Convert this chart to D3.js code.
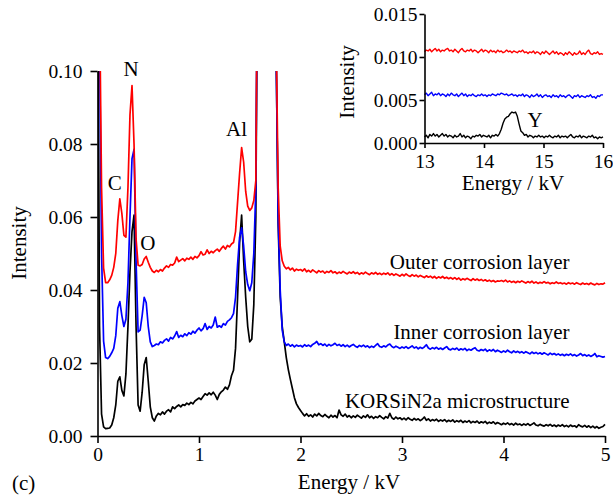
<!DOCTYPE html>
<html>
<head>
<meta charset="utf-8">
<script src="https://cdn.jsdelivr.net/npm/d3@7"></script>
<style>
  html, body { margin: 0; padding: 0; background: #fff; }
  svg { display: block; }
  text { font-family: "Liberation Serif", "Times New Roman", serif; fill: #000; }
</style>
</head>
<body>
<svg id="chart" width="613" height="497"></svg>
<script>
// EDS spectra, 0–5 kV, sampled every 0.02 kV (intensities above 0.10 are off-scale peaks)
const mainStart = 0, mainStep = 0.02;
const outerLayer = [
  0.150, 0.120, 0.068, 0.0460, 0.0420, 0.0420, 0.0428, 0.0440, 0.0462, 0.0500,
  0.0590, 0.0650, 0.0610, 0.0550, 0.0545, 0.0680, 0.0880, 0.0960, 0.0800, 0.0540,
  0.0468, 0.0466, 0.0470, 0.0485, 0.0492, 0.0476, 0.0462, 0.0452, 0.0448, 0.0454,
  0.0450, 0.0456, 0.0452, 0.0460, 0.0466, 0.0462, 0.0470, 0.0468, 0.0474, 0.0490,
  0.0478, 0.0482, 0.0486, 0.0480, 0.0487, 0.0484, 0.0490, 0.0484, 0.0492, 0.0488,
  0.0494, 0.0505, 0.0496, 0.0498, 0.0510, 0.0500, 0.0506, 0.0502, 0.0508, 0.0512,
  0.0506, 0.0514, 0.0520, 0.0512, 0.0522, 0.0518, 0.0526, 0.0530, 0.0560, 0.0640,
  0.0720, 0.0790, 0.0750, 0.0670, 0.0630, 0.0618, 0.0625, 0.0645, 0.0700, 0.150,
  0.300, 0.300, 0.300, 0.300, 0.300, 0.300, 0.300, 0.300, 0.110, 0.068,
  0.0520, 0.0480, 0.0465, 0.0458, 0.0462, 0.0455, 0.0460, 0.0452, 0.0457, 0.0454,
  0.0456, 0.0452, 0.0458, 0.0450, 0.0454, 0.0449, 0.0455, 0.0451, 0.0447, 0.0453,
  0.0449, 0.0452, 0.0446, 0.0451, 0.0448, 0.0453, 0.0447, 0.0450, 0.0445, 0.0449,
  0.0446, 0.0451, 0.0447, 0.0444, 0.0449, 0.0446, 0.0450, 0.0445, 0.0448, 0.0443,
  0.0447, 0.0444, 0.0449, 0.0445, 0.0442, 0.0447, 0.0444, 0.0448, 0.0443, 0.0446,
  0.0442, 0.0446, 0.0443, 0.0447, 0.0441, 0.0445, 0.0440, 0.0444, 0.0441, 0.0438,
  0.0443, 0.0439, 0.0444, 0.0440, 0.0437, 0.0442, 0.0438, 0.0441, 0.0436, 0.0440,
  0.0437, 0.0434, 0.0439, 0.0435, 0.0438, 0.0433, 0.0437, 0.0432, 0.0436, 0.0433,
  0.0437, 0.0432, 0.0435, 0.0431, 0.0434, 0.0430, 0.0434, 0.0429, 0.0433, 0.0427,
  0.0431, 0.0428, 0.0432, 0.0429, 0.0426, 0.0431, 0.0427, 0.0430, 0.0426, 0.0429,
  0.0425, 0.0428, 0.0424, 0.0427, 0.0423, 0.0426, 0.0422, 0.0425, 0.0424, 0.0426,
  0.0423, 0.0427, 0.0422, 0.0425, 0.0421, 0.0424, 0.0420, 0.0424, 0.0421, 0.0425,
  0.0422, 0.0419, 0.0423, 0.0420, 0.0424, 0.0419, 0.0422, 0.0418, 0.0421, 0.0419,
  0.0423, 0.0419, 0.0421, 0.0417, 0.0420, 0.0418, 0.0422, 0.0418, 0.0420, 0.0417,
  0.0419, 0.0416, 0.0420, 0.0417, 0.0419, 0.0416, 0.0420, 0.0417, 0.0415, 0.0419,
  0.0416, 0.0418, 0.0415, 0.0419, 0.0416, 0.0414, 0.0418, 0.0415, 0.0417, 0.0416,
  0.0420
];
const innerLayer = [
  0.150, 0.110, 0.050, 0.0260, 0.0215, 0.0212, 0.0218, 0.0228, 0.0240, 0.0275,
  0.0350, 0.0368, 0.0330, 0.0300, 0.0320, 0.0420, 0.0600, 0.0760, 0.0785, 0.0480,
  0.0285, 0.0290, 0.0330, 0.0380, 0.0365, 0.0300, 0.0258, 0.0245, 0.0248, 0.0252,
  0.0250, 0.0258, 0.0255, 0.0262, 0.0266, 0.0260, 0.0270, 0.0266, 0.0274, 0.0286,
  0.0270, 0.0276, 0.0272, 0.0280, 0.0275, 0.0283, 0.0279, 0.0287, 0.0282, 0.0290,
  0.0296, 0.0288, 0.0294, 0.0308, 0.0292, 0.0300, 0.0296, 0.0304, 0.0326, 0.0298,
  0.0302, 0.0298, 0.0308, 0.0304, 0.0314, 0.0318, 0.0324, 0.0335, 0.0380, 0.0470,
  0.0545, 0.0570, 0.0520, 0.0450, 0.0415, 0.0398, 0.0420, 0.0500, 0.0680, 0.150,
  0.300, 0.300, 0.300, 0.300, 0.300, 0.300, 0.300, 0.300, 0.105, 0.060,
  0.0400, 0.0290, 0.0258, 0.0248, 0.0252, 0.0246, 0.0250, 0.0244, 0.0249, 0.0246,
  0.0248, 0.0244, 0.0250, 0.0246, 0.0249, 0.0245, 0.0251, 0.0254, 0.0259, 0.0250,
  0.0253, 0.0248, 0.0252, 0.0246, 0.0251, 0.0247, 0.0250, 0.0254, 0.0248, 0.0251,
  0.0246, 0.0250, 0.0245, 0.0249, 0.0244, 0.0248, 0.0251, 0.0246, 0.0243, 0.0248,
  0.0245, 0.0249, 0.0244, 0.0247, 0.0242, 0.0246, 0.0243, 0.0248, 0.0253, 0.0245,
  0.0243, 0.0247, 0.0244, 0.0249, 0.0252, 0.0245, 0.0242, 0.0246, 0.0243, 0.0240,
  0.0244, 0.0241, 0.0245, 0.0240, 0.0243, 0.0247, 0.0241, 0.0244, 0.0239, 0.0243,
  0.0240, 0.0244, 0.0250, 0.0241, 0.0238, 0.0242, 0.0239, 0.0243, 0.0238, 0.0241,
  0.0237, 0.0241, 0.0245, 0.0238, 0.0236, 0.0240, 0.0237, 0.0241, 0.0235, 0.0239,
  0.0236, 0.0240, 0.0234, 0.0238, 0.0235, 0.0239, 0.0242, 0.0235, 0.0233, 0.0237,
  0.0234, 0.0238, 0.0232, 0.0236, 0.0233, 0.0237, 0.0231, 0.0235, 0.0232, 0.0229,
  0.0233, 0.0230, 0.0235, 0.0231, 0.0228, 0.0233, 0.0229, 0.0232, 0.0228, 0.0231,
  0.0227, 0.0231, 0.0228, 0.0225, 0.0230, 0.0226, 0.0229, 0.0225, 0.0228, 0.0224,
  0.0228, 0.0225, 0.0222, 0.0227, 0.0223, 0.0226, 0.0222, 0.0225, 0.0221, 0.0224,
  0.0220, 0.0224, 0.0221, 0.0225, 0.0220, 0.0223, 0.0219, 0.0222, 0.0226, 0.0220,
  0.0223, 0.0219, 0.0222, 0.0218, 0.0221, 0.0226, 0.0217, 0.0220, 0.0218, 0.0216,
  0.0218
];
const microstructure = [
  0.150, 0.030, 0.0060, 0.0025, 0.0020, 0.0021, 0.0022, 0.0030, 0.0050, 0.0085,
  0.0150, 0.0162, 0.0125, 0.0110, 0.0170, 0.0300, 0.0450, 0.0560, 0.0605, 0.0300,
  0.0085, 0.0068, 0.0120, 0.0195, 0.0215, 0.0150, 0.0080, 0.0050, 0.0041, 0.0055,
  0.0062, 0.0058, 0.0066, 0.0060, 0.0068, 0.0072, 0.0066, 0.0080, 0.0075, 0.0081,
  0.0085, 0.0080, 0.0086, 0.0084, 0.0090, 0.0086, 0.0092, 0.0088, 0.0096, 0.0100,
  0.0104, 0.0100, 0.0108, 0.0116, 0.0112, 0.0118, 0.0113, 0.0120, 0.0112, 0.0100,
  0.0114, 0.0121, 0.0126, 0.0134, 0.0128, 0.0140, 0.0165, 0.0180, 0.0240, 0.0380,
  0.0530, 0.0605, 0.0480, 0.0380, 0.0300, 0.0258, 0.0265, 0.0360, 0.0600, 0.150,
  0.300, 0.300, 0.300, 0.300, 0.300, 0.300, 0.300, 0.300, 0.105, 0.058,
  0.0380, 0.0300, 0.0258, 0.0215, 0.0182, 0.0155, 0.0130, 0.0105, 0.0088, 0.0078,
  0.0070, 0.0062, 0.0055, 0.0061, 0.0054, 0.0058, 0.0052, 0.0060, 0.0055, 0.0062,
  0.0056, 0.0053, 0.0059, 0.0054, 0.0050, 0.0057, 0.0052, 0.0056, 0.0050, 0.0071,
  0.0058, 0.0054, 0.0060, 0.0052, 0.0056, 0.0050, 0.0055, 0.0051, 0.0057, 0.0053,
  0.0049, 0.0055, 0.0051, 0.0058, 0.0050, 0.0054, 0.0048, 0.0053, 0.0050, 0.0056,
  0.0051, 0.0047, 0.0053, 0.0049, 0.0062, 0.0050, 0.0046, 0.0052, 0.0047, 0.0050,
  0.0045, 0.0049, 0.0044, 0.0050, 0.0046, 0.0043, 0.0048, 0.0044, 0.0047, 0.0042,
  0.0046, 0.0052, 0.0043, 0.0047, 0.0041, 0.0045, 0.0042, 0.0046, 0.0040, 0.0044,
  0.0041, 0.0045, 0.0039, 0.0043, 0.0040, 0.0044, 0.0038, 0.0042, 0.0039, 0.0043,
  0.0037, 0.0041, 0.0038, 0.0042, 0.0036, 0.0040, 0.0037, 0.0041, 0.0035, 0.0039,
  0.0036, 0.0040, 0.0034, 0.0038, 0.0035, 0.0039, 0.0033, 0.0037, 0.0034, 0.0031,
  0.0035, 0.0032, 0.0036, 0.0031, 0.0034, 0.0030, 0.0035, 0.0031, 0.0033, 0.0029,
  0.0033, 0.0030, 0.0034, 0.0029, 0.0032, 0.0036, 0.0030, 0.0028, 0.0032, 0.0029,
  0.0027, 0.0031, 0.0028, 0.0032, 0.0027, 0.0030, 0.0026, 0.0030, 0.0027, 0.0031,
  0.0026, 0.0029, 0.0025, 0.0030, 0.0026, 0.0028, 0.0024, 0.0031, 0.0027, 0.0025,
  0.0029, 0.0024, 0.0028, 0.0023, 0.0027, 0.0022, 0.0026, 0.0021, 0.0024, 0.0026,
  0.0032
];

// High-energy window, 13–16 kV, sampled every 0.03 kV
const insetStart = 13, insetStep = 0.03;
const outerHigh = [
  0.0106, 0.0108, 0.0107, 0.0109, 0.0106, 0.0108, 0.0110, 0.0107, 0.0109, 0.0106,
  0.0108, 0.0107, 0.0109, 0.0110, 0.0107, 0.0108, 0.0106, 0.0109, 0.0107, 0.0105,
  0.0108, 0.0110, 0.0107, 0.0106, 0.0108, 0.0107, 0.0109, 0.0106, 0.0108, 0.0107,
  0.0105, 0.0107, 0.0109, 0.0106, 0.0108, 0.0107, 0.0105, 0.0108, 0.0106, 0.0107,
  0.0105, 0.0108, 0.0106, 0.0107, 0.0105, 0.0106, 0.0108, 0.0106, 0.0107, 0.0105,
  0.0107, 0.0106, 0.0105, 0.0107, 0.0106, 0.0108, 0.0105, 0.0106, 0.0104, 0.0106,
  0.0105, 0.0107, 0.0104, 0.0106, 0.0105, 0.0103, 0.0106, 0.0104, 0.0107, 0.0105,
  0.0103, 0.0105, 0.0107, 0.0104, 0.0106, 0.0103, 0.0105, 0.0104, 0.0102, 0.0105,
  0.0103, 0.0106, 0.0104, 0.0102, 0.0105, 0.0103, 0.0104, 0.0107, 0.0103, 0.0105,
  0.0103, 0.0106, 0.0108, 0.0104, 0.0103, 0.0105, 0.0104, 0.0106, 0.0103, 0.0104,
  0.0103
];
const innerHigh = [
  0.0056, 0.0058, 0.0055, 0.0057, 0.0059, 0.0055, 0.0057, 0.0056, 0.0058, 0.0055,
  0.0057, 0.0056, 0.0054, 0.0057, 0.0055, 0.0058, 0.0056, 0.0055, 0.0057, 0.0054,
  0.0056, 0.0058, 0.0055, 0.0057, 0.0054, 0.0056, 0.0055, 0.0057, 0.0055, 0.0054,
  0.0056, 0.0055, 0.0057, 0.0055, 0.0056, 0.0054, 0.0056, 0.0055, 0.0057, 0.0056,
  0.0055, 0.0057, 0.0056, 0.0058, 0.0057, 0.0056, 0.0057, 0.0055, 0.0056, 0.0057,
  0.0055, 0.0056, 0.0054, 0.0056, 0.0055, 0.0057, 0.0054, 0.0056, 0.0055, 0.0053,
  0.0056, 0.0054, 0.0055, 0.0057, 0.0054, 0.0056, 0.0053, 0.0055, 0.0056, 0.0054,
  0.0055, 0.0053, 0.0056, 0.0054, 0.0055, 0.0053, 0.0056, 0.0054, 0.0055, 0.0053,
  0.0055, 0.0056, 0.0054, 0.0052, 0.0055, 0.0054, 0.0056, 0.0053, 0.0055, 0.0054,
  0.0053, 0.0055, 0.0054, 0.0056, 0.0053, 0.0054, 0.0052, 0.0055, 0.0054, 0.0056,
  0.0056
];
const microHigh = [
  0.0007, 0.0009, 0.0006, 0.0010, 0.0008, 0.0011, 0.0008, 0.0010, 0.0007, 0.0009,
  0.0011, 0.0008, 0.0010, 0.0007, 0.0009, 0.0008, 0.0006, 0.0009, 0.0007, 0.0008,
  0.0011, 0.0007, 0.0009, 0.0006, 0.0008, 0.0007, 0.0005, 0.0008, 0.0007, 0.0009,
  0.0008, 0.0010, 0.0007, 0.0009, 0.0008, 0.0007, 0.0009, 0.0006, 0.0009, 0.0008,
  0.0010, 0.0008, 0.0011, 0.0016, 0.0023, 0.0028, 0.0030, 0.0031, 0.0034, 0.0036,
  0.0035, 0.0036, 0.0031, 0.0022, 0.0014, 0.0012, 0.0009, 0.0010, 0.0007, 0.0009,
  0.0008, 0.0006, 0.0008, 0.0007, 0.0009, 0.0007, 0.0008, 0.0006, 0.0008, 0.0007,
  0.0009, 0.0007, 0.0006, 0.0008, 0.0007, 0.0009, 0.0006, 0.0008, 0.0007, 0.0008,
  0.0006, 0.0008, 0.0010, 0.0007, 0.0006, 0.0008, 0.0007, 0.0009, 0.0006, 0.0008,
  0.0007, 0.0006, 0.0008, 0.0007, 0.0009, 0.0006, 0.0007, 0.0005, 0.0007, 0.0006,
  0.0007
];

const mainXTicks = [0, 1, 2, 3, 4, 5];
const mainYTicks = [0, 0.02, 0.04, 0.06, 0.08, 0.10];
const insetXTicks = [13, 14, 15, 16];
const insetYTicks = [0, 0.005, 0.010, 0.015];

const seriesNames = ["Outer corrosion layer", "Inner corrosion layer", "KORSiN2a microstructure"];
const seriesColors = ["#ff0000", "#0000ff", "#000000"];

// element peak labels: [text, energy kV, intensity]
const peakLabels = [["C", 0.17, 0.0675], ["N", 0.33, 0.0985], ["O", 0.495, 0.0509], ["Al", 1.37, 0.0822]];
const insetPeakLabel = ["Y", 14.86, 0.0019];

const svg = d3.select("#chart");
const FONT_TICK = 19.5, FONT_TITLE = 21;

function toPoints(values, start, step) {
  return values.map((v, i) => [start + i * step, v]);
}

function styleAxis(g, size) {
  g.selectAll("path.domain").attr("stroke", "#000").attr("stroke-width", 1.6);
  g.selectAll(".tick line").attr("stroke", "#000").attr("stroke-width", 1.6);
  g.selectAll(".tick text").attr("font-size", size).attr("font-family", "Liberation Serif, serif").attr("fill", "#000");
}

// ---- main panel ----
const x = d3.scaleLinear().domain([0, 5]).range([97.5, 605]);
const y = d3.scaleLinear().domain([0, 0.10]).range([436, 71]);

svg.append("clipPath").attr("id", "mainClip")
  .append("rect").attr("x", x(0)).attr("y", y(0.10)).attr("width", x(5) - x(0) + 2).attr("height", y(0) - y(0.10) + 4);

const line = d3.line().x(d => x(d[0])).y(d => y(d[1]));
const mainSeries = [outerLayer, innerLayer, microstructure];
const plot = svg.append("g").attr("clip-path", "url(#mainClip)");
// draw black first so red sits on top
[2, 1, 0].forEach(k => {
  plot.append("path")
    .datum(toPoints(mainSeries[k], mainStart, mainStep))
    .attr("fill", "none")
    .attr("stroke", seriesColors[k])
    .attr("stroke-width", 1.7)
    .attr("stroke-linejoin", "round")
    .attr("d", line);
});

svg.append("g").attr("transform", `translate(0,${y(0)})`)
  .call(d3.axisBottom(x).tickValues(mainXTicks).tickFormat(d3.format("d")).tickSize(7).tickSizeOuter(0).tickPadding(4))
  .call(g => styleAxis(g, FONT_TICK));
svg.append("g").attr("transform", `translate(${x(0)},0)`)
  .call(d3.axisLeft(y).tickValues(mainYTicks).tickFormat(d3.format(".2f")).tickSize(7).tickSizeOuter(0).tickPadding(8))
  .call(g => styleAxis(g, FONT_TICK));

svg.append("text").attr("x", 349).attr("y", 489).attr("text-anchor", "middle")
  .attr("font-size", FONT_TITLE).text("Energy / kV");
svg.append("text").attr("transform", "translate(26,243) rotate(-90)").attr("text-anchor", "middle")
  .attr("font-size", FONT_TITLE).text("Intensity");
svg.append("text").attr("x", 12).attr("y", 490).attr("font-size", FONT_TITLE).text("(c)");

peakLabels.forEach(([t, e, v]) => {
  svg.append("text").attr("x", x(e)).attr("y", y(v)).attr("text-anchor", "middle")
    .attr("font-size", FONT_TITLE).text(t);
});

// series labels, right-aligned above each trace
const seriesLabelY = [0.0457, 0.0265, 0.0077];
seriesNames.forEach((name, k) => {
  svg.append("text").attr("x", x(4.65)).attr("y", y(seriesLabelY[k])).attr("text-anchor", "end")
    .attr("font-size", FONT_TITLE).text(name);
});

// ---- inset panel ----
const xi = d3.scaleLinear().domain([13, 16]).range([424.5, 603]);
const yi = d3.scaleLinear().domain([0, 0.015]).range([143, 14]);
const lineI = d3.line().x(d => xi(d[0])).y(d => yi(d[1]));
const insetSeries = [outerHigh, innerHigh, microHigh];
[2, 1, 0].forEach(k => {
  svg.append("path")
    .datum(toPoints(insetSeries[k], insetStart, insetStep))
    .attr("fill", "none")
    .attr("stroke", seriesColors[k])
    .attr("stroke-width", 1.4)
    .attr("stroke-linejoin", "round")
    .attr("d", lineI);
});

svg.append("g").attr("transform", `translate(0,${yi(0)})`)
  .call(d3.axisBottom(xi).tickValues(insetXTicks).tickFormat(d3.format("d")).tickSize(5).tickSizeOuter(0).tickPadding(6))
  .call(g => styleAxis(g, FONT_TICK));
svg.append("g").attr("transform", `translate(${xi(13)},0)`)
  .call(d3.axisLeft(yi).tickValues(insetYTicks).tickFormat(d3.format(".3f")).tickSize(5).tickSizeOuter(0).tickPadding(2))
  .call(g => styleAxis(g, FONT_TICK));

svg.append("text").attr("x", 513).attr("y", 190).attr("text-anchor", "middle")
  .attr("font-size", FONT_TITLE).text("Energy / kV");
svg.append("text").attr("transform", "translate(354,82) rotate(-90)").attr("text-anchor", "middle")
  .attr("font-size", FONT_TITLE).text("Intensity");
svg.append("text").attr("x", xi(insetPeakLabel[1])).attr("y", yi(insetPeakLabel[2])).attr("text-anchor", "middle")
  .attr("font-size", FONT_TITLE).text(insetPeakLabel[0]);
</script>
</body>
</html>
